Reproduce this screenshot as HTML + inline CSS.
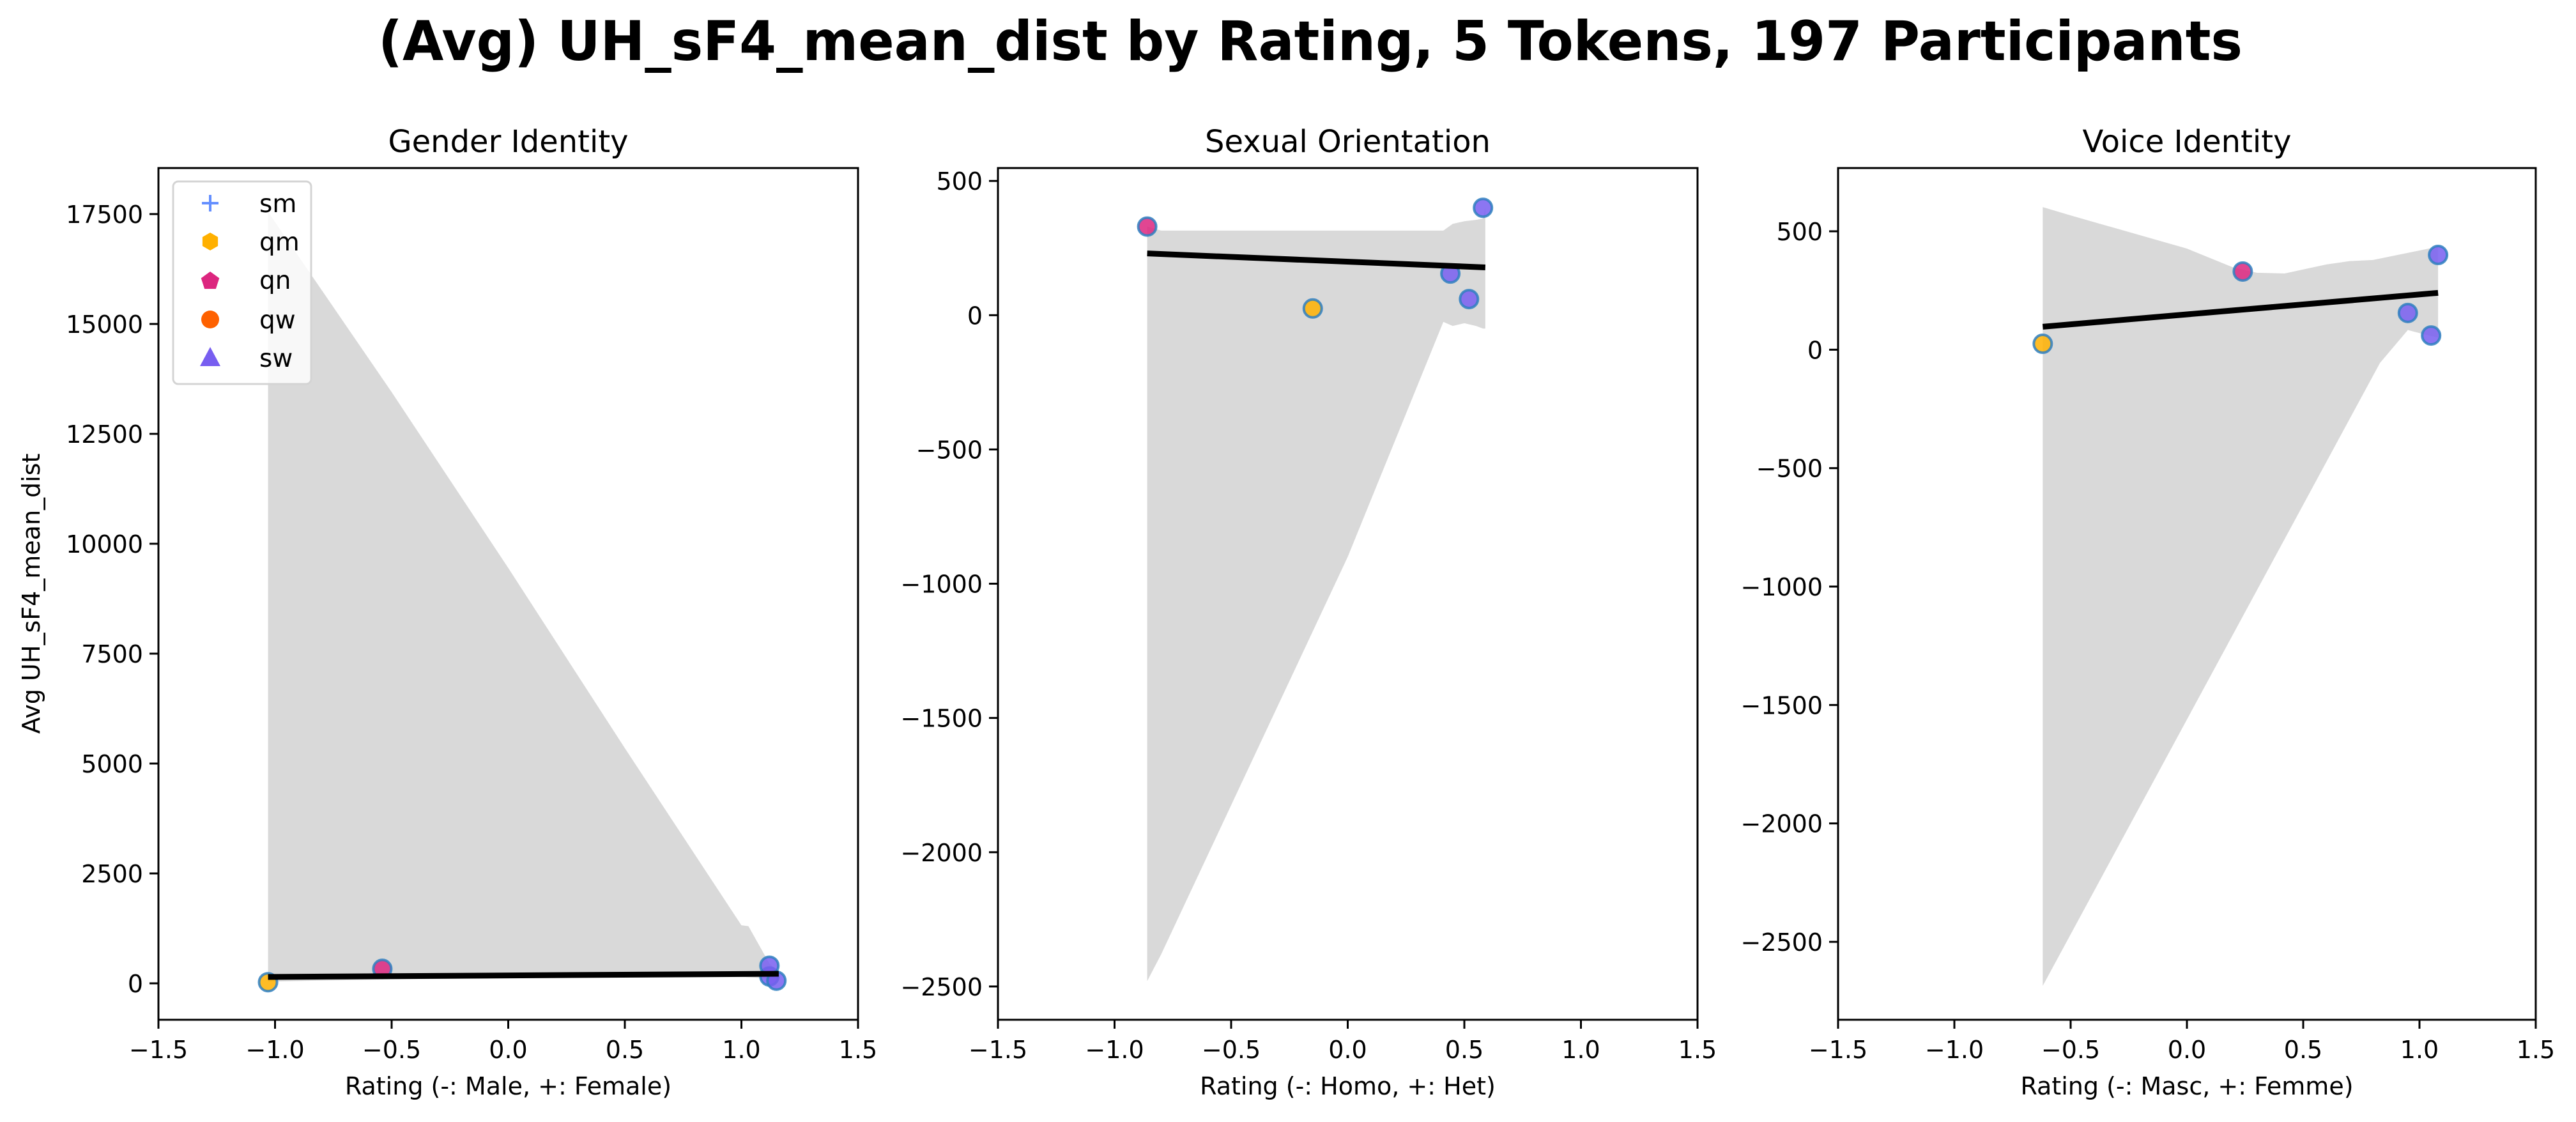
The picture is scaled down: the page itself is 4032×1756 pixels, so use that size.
<!DOCTYPE html>
<html><head><meta charset="utf-8"><style>
html,body{margin:0;padding:0;background:#fff;}
svg text{font-family:"DejaVu Sans","Liberation Sans",sans-serif;}
</style></head><body>
<svg id="chart" xmlns="http://www.w3.org/2000/svg" width="4032" height="1751" viewBox="0 0 4032 1751">
<rect width="4032" height="1751" fill="#fff"/>
<text x="2051" y="94" font-size="86" font-weight="bold" text-anchor="middle" textLength="2918" lengthAdjust="spacingAndGlyphs">(Avg) UH_sF4_mean_dist by Rating, 5 Tokens, 197 Participants</text>
<g id="panels"></g>
</svg>
<script>
const titles = ["Gender Identity","Sexual Orientation","Voice Identity"];
const xlabels = ["Rating (-: Male, +: Female)","Rating (-: Homo, +: Het)","Rating (-: Masc, +: Femme)"];
const xTicks = [-1.5,-1.0,-0.5,0.0,0.5,1.0,1.5];
const yTicks1 = [0,2500,5000,7500,10000,12500,15000,17500];
const yTicks2 = [-2500,-2000,-1500,-1000,-500,0,500];
const yTicks3 = [-2500,-2000,-1500,-1000,-500,0,500];
const yRange1 = [-829,18547];
const yRange2 = [-2624,548];
const yRange3 = [-2829,767];
// points: x rating, y value, group
const px1 = [-1.03,-0.54,1.12,1.12,1.15];
const px2 = [-0.15,-0.86,0.44,0.58,0.52];
const px3 = [-0.62,0.24,0.95,1.08,1.05];
const pyVals = [25,330,155,400,60];
const pGroups = ["qm","qn","sw","sw","sw"];
// regression line endpoints
const lineX1 = [-1.03,1.16], lineY1 = [145,218];
const lineX2 = [-0.86,0.59], lineY2 = [230,178];
const lineX3 = [-0.62,1.08], lineY3 = [97,240];
// confidence bands
const bandX1 = [-1.03,-0.5,0,0.5,1.0,1.03,1.12,1.16];
const bandHi1 = [17550,13450,9450,5350,1320,1300,450,260];
const bandLo1 = [40,90,120,140,150,140,110,90];
const bandX2 = [-0.86,-0.8,0,0.41,0.45,0.5,0.55,0.58,0.59];
const bandHi2 = [330,315,315,315,340,350,355,360,400];
const bandLo2 = [-2480,-2380,-900,-25,-40,-30,-40,-50,-50];
const bandX3 = [-0.62,-0.5,0,0.2,0.3,0.42,0.6,0.7,0.8,1.08];
const bandHi3 = [602,567,427,347,325,322,360,374,379,435];
const bandX3lo = [-0.62,0.83,0.95,1.02,1.08];
const bandLo3 = [-2686,-56,83,65,51];
const legendLabels = ["sm","qm","qn","qw","sw"];
const colors = {sm:"#648fff",qm:"#ffb000",qn:"#dc267f",qw:"#fe6100",sw:"#785ef0"};

const NS="http://www.w3.org/2000/svg";
const root=document.getElementById('panels');
function mk(tag,attrs,parent){const e=document.createElementNS(NS,tag);for(const k in attrs)e.setAttribute(k,attrs[k]);(parent||root).appendChild(e);return e;}
const boxes=[[248,1343],[1562,2657],[2877,3969]];
const TOP=263,BOT=1596;
const panels=[
 {yt:yTicks1,yr:yRange1,px:px1,lx:lineX1,ly:lineY1,bx:bandX1,bh:bandHi1,bxl:bandX1,bl:bandLo1},
 {yt:yTicks2,yr:yRange2,px:px2,lx:lineX2,ly:lineY2,bx:bandX2,bh:bandHi2,bxl:bandX2,bl:bandLo2},
 {yt:yTicks3,yr:yRange3,px:px3,lx:lineX3,ly:lineY3,bx:bandX3,bh:bandHi3,bxl:bandX3lo,bl:bandLo3}];
panels.forEach((p,i)=>{
 const [L,R]=boxes[i];
 const sx=v=>L+(v+1.5)/3*(R-L);
 const sy=v=>BOT-(v-p.yr[0])/(p.yr[1]-p.yr[0])*(BOT-TOP);
 const g=mk('g',{});
 
 
 let pts=p.bx.map((x,j)=>sx(x)+','+sy(p.bh[j]));
 for(let j=p.bxl.length-1;j>=0;j--)pts.push(sx(p.bxl[j])+','+sy(p.bl[j]));
 const band=mk('polygon',{points:pts.join(' '),fill:'#d9d9d9'},g);
 
 
 p.px.forEach((x,j)=>{
  const c=mk('circle',{cx:sx(x),cy:sy(pyVals[j]),r:14,fill:colors[pGroups[j]],'fill-opacity':0.85,stroke:'#2f7fbf','stroke-width':4,'stroke-opacity':0.85},g);
  
  
 });
 const ln=mk('line',{x1:sx(p.lx[0]),y1:sy(p.ly[0]),x2:sx(p.lx[1]),y2:sy(p.ly[1]),stroke:'#000','stroke-width':9},g);
 
 
 const fr=mk('rect',{x:L,y:TOP,width:R-L,height:BOT-TOP,fill:'none',stroke:'#000','stroke-width':3},g);
 
 
 xTicks.forEach(t=>{
  const x=sx(t);
  mk('line',{x1:x,y1:BOT,x2:x,y2:BOT+14,stroke:'#000','stroke-width':3},g);
  const tx=mk('text',{x:x,y:1656,'font-size':38,'text-anchor':'middle'},g);
  tx.textContent=t.toFixed(1).replace('-','\u2212');
  
  
 });
 p.yt.forEach(t=>{
  const y=sy(t);
  mk('line',{x1:L-14,y1:y,x2:L,y2:y,stroke:'#000','stroke-width':3},g);
  const tx=mk('text',{x:L-24,y:y+14,'font-size':38,'text-anchor':'end'},g);
  tx.textContent=String(t).replace('-','\u2212');
  
  
 });
 const tt=mk('text',{x:(L+R)/2,y:238,'font-size':48,'text-anchor':'middle'},g);
 tt.textContent=titles[i];
 
 
 const xl=mk('text',{x:(L+R)/2,y:1713,'font-size':38,'text-anchor':'middle'},g);
 xl.textContent=xlabels[i];
 
 
});
const yl=mk('text',{x:0,y:0,'font-size':38,'text-anchor':'middle',transform:'translate(62,929) rotate(-90)'});
yl.textContent='Avg UH_sF4_mean_dist';


const lg=mk('g',{});


mk('rect',{x:271,y:284,width:216,height:317,rx:8,fill:'#fff','fill-opacity':0.8,stroke:'#d4d4d4','stroke-width':3},lg);
const ly=[318,378,438,500,560];
legendLabels.forEach((lab,j)=>{
 const cx=329,cy=ly[j],col=colors[lab];
 let m;
 if(lab==='sm'){m=mk('path',{d:`M${cx-13},${cy} h26 M${cx},${cy-13} v26`,stroke:col,'stroke-width':4},lg);}
 else if(lab==='qm'){let s=[];for(let k=0;k<6;k++){const a=Math.PI/180*(90+60*k);s.push((cx+14*Math.cos(a))+','+(cy-14*Math.sin(a)));}m=mk('polygon',{points:s.join(' '),fill:col},lg);}
 else if(lab==='qn'){let s=[];for(let k=0;k<5;k++){const a=Math.PI/180*(90+72*k);s.push((cx+15*Math.cos(a))+','+(cy+2-15*Math.sin(a)));}m=mk('polygon',{points:s.join(' '),fill:col},lg);}
 else if(lab==='qw'){m=mk('circle',{cx:cx,cy:cy,r:14,fill:col},lg);}
 else {m=mk('polygon',{points:`${cx},${cy-17} ${cx+16},${cy+13} ${cx-16},${cy+13}`,fill:col},lg);}
 
 
 const t=mk('text',{x:406,y:cy+14,'font-size':39},lg);
 t.textContent=lab;
 
 
});
</script>
</body></html>
